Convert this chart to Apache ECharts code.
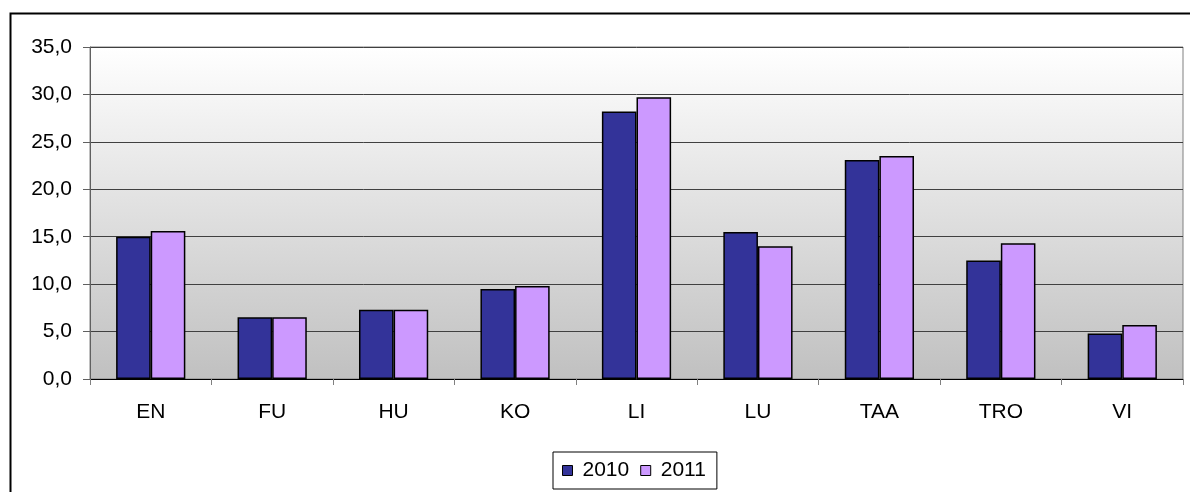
<!DOCTYPE html>
<html>
<head>
<meta charset="utf-8">
<script src="https://cdn.jsdelivr.net/npm/echarts@6/dist/echarts.min.js"></script>
<style>
  html, body { margin: 0; padding: 0; background: #fff; }
  #main { width: 1190px; height: 492px; }
</style>
</head>
<body>
<div id="main"></div>
<script>
var categories = ['EN', 'FU', 'HU', 'KO', 'LI', 'LU', 'TAA', 'TRO', 'VI'];
var values2010 = [15.0, 6.5, 7.3, 9.5, 28.2, 15.5, 23.1, 12.5, 4.8];
var values2011 = [15.6, 6.5, 7.3, 9.8, 29.7, 14.0, 23.5, 14.3, 5.7];
var yTicks = [0, 5, 10, 15, 20, 25, 30, 35];

(function () {
    var myChart = echarts.init(document.getElementById('main'));
    var font = '"Liberation Sans", Arial, sans-serif';

    var option = {
        animation: false,
        backgroundColor: '#fff',
        textStyle: { fontFamily: font },
        graphic: [
            {
                type: 'rect',
                left: 8,
                top: 11,
                shape: { width: 1200, height: 500 },
                style: { fill: 'none', stroke: '#000', lineWidth: 2 },
                z: 0
            }
        ],
        legend: {
            left: 553,
            top: 452,
            icon: 'rect',
            itemWidth: 10,
            itemHeight: 10,
            itemGap: 11,
            padding: [8, 11, 8, 9],
            borderColor: '#000',
            borderWidth: 1,
            itemStyle: { borderColor: '#000', borderWidth: 1 },
            textStyle: { fontSize: 21, color: '#000', fontFamily: font, padding: [0, 0, 0, 5] },
            data: ['2010', '2011']
        },
        grid: {
            left: 90,
            right: 7,
            top: 47,
            bottom: 113,
            show: true,
            borderColor: '#808080',
            borderWidth: 1,
            backgroundColor: {
                type: 'linear',
                x: 0, y: 0, x2: 0, y2: 1,
                colorStops: [
                    { offset: 0, color: '#ffffff' },
                    { offset: 1, color: '#c0c0c0' }
                ]
            }
        },
        xAxis: {
            type: 'category',
            data: categories,
            axisLine: { lineStyle: { color: '#000', width: 1 } },
            axisTick: { show: true, inside: false, length: 6, lineStyle: { color: '#808080' } },
            axisLabel: { fontSize: 21, color: '#000', margin: 23, fontFamily: font }
        },
        yAxis: {
            type: 'value',
            min: 0,
            max: 35,
            interval: 5,
            axisLine: { show: true, lineStyle: { color: '#606060', width: 1 } },
            axisTick: { show: true, length: 7, lineStyle: { color: '#606060' } },
            splitLine: { show: true, lineStyle: { color: '#404040', width: 1 } },
            axisLabel: {
                fontSize: 21,
                color: '#000',
                margin: 18,
                fontFamily: font,
                formatter: function (v) {
                    return yTicks.indexOf(v) >= 0 ? v.toFixed(1).replace('.', ',') : '';
                }
            }
        },
        series: [
            {
                name: '2010',
                type: 'bar',
                data: values2010,
                barGap: '0%',
                barCategoryGap: '43%',
                itemStyle: { color: '#333399', borderColor: '#000', borderWidth: 1.5 }
            },
            {
                name: '2011',
                type: 'bar',
                data: values2011,
                itemStyle: { color: '#CC99FF', borderColor: '#000', borderWidth: 1.5 }
            }
        ]
    };

    myChart.setOption(option);

    window.addEventListener('resize', function () {
        myChart.resize();
    });
})();
</script>
</body>
</html>
